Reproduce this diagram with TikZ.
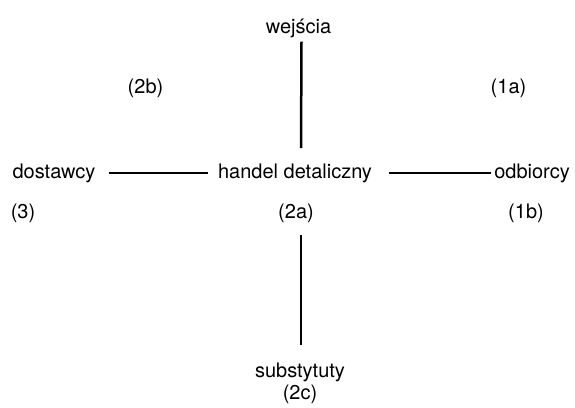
\documentclass[tikz,border=0pt]{standalone}
\usepackage{fontspec}
\setmainfont{TeX Gyre Heros}
\begin{document}
\begin{tikzpicture}[x=1pt,y=-1pt,
  lbl/.style={anchor=base,inner sep=0pt,font=\fontsize{20}{24}\selectfont},
  link/.style={line width=2.5pt}]
\useasboundingbox[fill=white] (0,0) rectangle (575,407);
% labels
\node[lbl] (wej)   at (298.5,33)  {wejścia};
\node[lbl] (p2b)   at (145.5,93)  {(2b)};
\node[lbl] (p1a)   at (508.5,93)  {(1a)};
\node[lbl] (dost)  at (54,178)    {dostawcy};
\node[lbl] (hand)  at (295,178)   {handel detaliczny};
\node[lbl] (odb)   at (532,178)   {odbiorcy};
\node[lbl] (p3)    at (23,218)    {(3)};
\node[lbl] (p2a)   at (296,218)   {(2a)};
\node[lbl] (p1b)   at (526,218)   {(1b)};
\node[lbl] (subs)  at (300,377)   {substytuty};
\node[lbl] (p2c)   at (300,399)   {(2c)};
% connectors
\draw[link] ([shift={(3,4)}]wej.south) -- ([shift={(6,-15)}]hand.north);
\draw[link] ([xshift=13pt]dost.east) -- ([xshift=-10pt]hand.west);
\draw[link] ([xshift=17pt]hand.east) -- ([xshift=-3pt]odb.west);
\draw[link] ([shift={(5,13)}]p2a.south) -- ([shift={(1,-17)}]subs.north);
\end{tikzpicture}
\end{document}
